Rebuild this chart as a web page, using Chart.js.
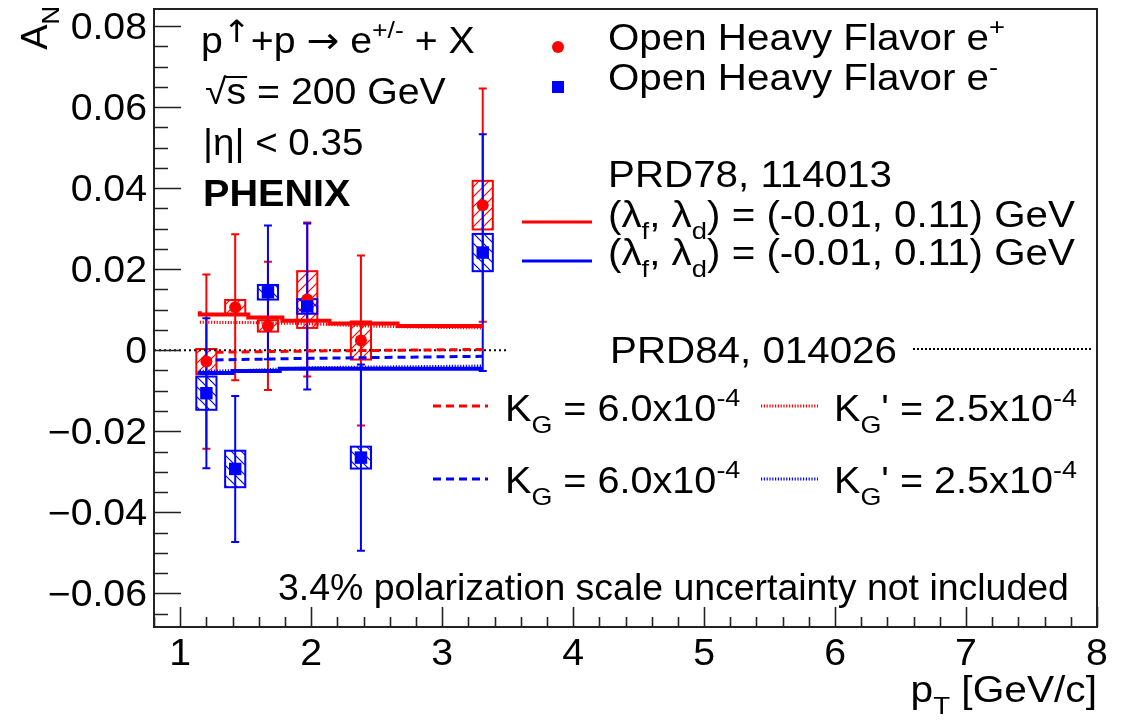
<!DOCTYPE html>
<html>
<head>
<meta charset="utf-8">
<script src="https://cdn.jsdelivr.net/npm/chart.js@4/dist/chart.umd.min.js"></script>
<style>
  html, body { margin: 0; padding: 0; background: #fff; }
</style>
</head>
<body>
<canvas id="myChart" width="1131" height="721"></canvas>
<script>
// pT bin centres (GeV/c), shared by e+ and e-
const ptBins = [1.20, 1.42, 1.67, 1.97, 2.38, 3.31];

// e+ : A_N, statistical error, systematic (box half height)
const anPos   = [-0.0028, 0.0106, 0.0060, 0.0125, 0.0024, 0.0358];
const statPos = [0.0215, 0.0180, 0.0158, 0.0190, 0.0210, 0.0288];
const sysPos  = [0.0031, 0.0018, 0.0014, 0.0070, 0.0047, 0.0060];

// e- : A_N, statistical error, systematic
const anNeg   = [-0.0106, -0.0293, 0.0143, 0.0108, -0.0265, 0.0241];
const statNeg = [0.0185, 0.0180, 0.0165, 0.0205, 0.0230, 0.0292];
const sysNeg  = [0.0041, 0.0045, 0.0018, 0.0018, 0.0027, 0.0046];

// half width of the systematic boxes in pT
const boxHalfWidth = 0.077;

// theory curves: [pT, A_N]
const prd78Pos = [[1.15, 0.0096], [1.52, 0.0088], [1.78, 0.0081], [2.14, 0.0073], [2.66, 0.0066], [2.97, 0.0060], [3.31, 0.0060]];
const prd78Neg = [[1.15, -0.0060], [1.40, -0.0056], [1.76, -0.0051], [2.00, -0.0046], [3.31, -0.0046]];
const kgPos    = [[1.27, -0.0005], [2.00, -0.0002], [3.31, 0.0002]];
const kgNeg    = [[1.27, -0.0024], [2.00, -0.0020], [3.31, -0.0015]];
const kgpPos   = [[1.15, 0.0069], [1.60, 0.0068], [2.00, 0.0065], [2.40, 0.0060], [2.80, 0.0057], [3.31, 0.0055]];
const kgpNeg   = [[1.15, -0.0052], [1.50, -0.0050], [2.00, -0.0043], [3.31, -0.0039]];
const zeroLine = [[0.8, 0], [3.5, 0]];

// axes
const xRange = [0.8, 8.0];
const yRange = [-0.0683, 0.0842];
const xTicks = [1, 2, 3, 4, 5, 6, 7, 8];
const xTickLabels = ['1', '2', '3', '4', '5', '6', '7', '8'];
const yTicks = [-0.06, -0.04, -0.02, 0, 0.02, 0.04, 0.06, 0.08];
const yTickLabels = ['\u22120.06', '\u22120.04', '\u22120.02', '0', '0.02', '0.04', '0.06', '0.08'];
const xMinorStep = 0.2;
const yMinorStep = 0.005;

const RED = '#ff0000';
const BLUE = '#0000ff';
const FONT = '"Liberation Sans", Arial, Helvetica, sans-serif';
const ARROWS = /[\u2190-\u21FF]/;

const toXY = arr => arr.map(p => ({ x: p[0], y: p[1] }));

// split "K_{G} = 6.0x10^{-4}" into plain / sub / sup pieces
function splitRich(str) {
  const out = [];
  const re = /([_^])\{([^}]*)\}/g;
  let last = 0, m;
  while ((m = re.exec(str))) {
    if (m.index > last) out.push({ t: str.slice(last, m.index), kind: '' });
    out.push({ t: m[2], kind: m[1] });
    last = re.lastIndex;
  }
  if (last < str.length) out.push({ t: str.slice(last), kind: '' });
  return out;
}

// arrows are split out so they can use the wider DejaVu glyphs
function explodeArrows(parts) {
  const out = [];
  for (const p of parts) {
    p.t.split(/([\u2190-\u21FF])/).forEach(t => { if (t) out.push({ t: t, kind: p.kind }); });
  }
  return out;
}

function rich(ctx, str, x, y, size, opt) {
  opt = opt || {};
  const sxs = opt.sx || 1.08;
  const parts = explodeArrows(splitRich(str));
  const font = (s, t) => (opt.bold ? 'bold ' : '') + s + 'px ' + (ARROWS.test(t) ? '"DejaVu Sans", ' + FONT : FONT);
  let total = 0;
  for (const p of parts) {
    p.size = p.kind ? size * 0.68 : size;
    if (ARROWS.test(p.t) && p.kind) p.size = size * 0.85;
    ctx.font = font(p.size, p.t);
    p.w = ctx.measureText(p.t).width;
    total += p.w;
  }
  ctx.save();
  ctx.translate(x, y);
  if (opt.rot) ctx.rotate(opt.rot);
  ctx.scale(sxs, 1);
  ctx.fillStyle = opt.color || '#000';
  ctx.textBaseline = 'alphabetic';
  ctx.textAlign = 'left';
  let cx = opt.align === 'right' ? -total : opt.align === 'center' ? -total / 2 : 0;
  for (const p of parts) {
    ctx.font = font(p.size, p.t);
    let dy = p.kind === '_' ? size * 0.32 : p.kind === '^' ? -size * 0.42 : 0;
    if (ARROWS.test(p.t) && p.kind === '^') dy = -size * 0.3;
    ctx.fillText(p.t, cx, dy);
    cx += p.w;
  }
  ctx.restore();
  return total * sxs;
}

function hatch(color, dir) {
  const s = 10;
  const c = document.createElement('canvas');
  c.width = s; c.height = s;
  const g = c.getContext('2d');
  g.strokeStyle = color;
  g.lineWidth = 1.2;
  g.beginPath();
  if (dir > 0) {
    g.moveTo(0, s); g.lineTo(s, 0);
    g.moveTo(-2, 2); g.lineTo(2, -2);
    g.moveTo(s - 2, s + 2); g.lineTo(s + 2, s - 2);
  } else {
    g.moveTo(0, 0); g.lineTo(s, s);
    g.moveTo(-2, s - 2); g.lineTo(2, s + 2);
    g.moveTo(s - 2, -2); g.lineTo(s + 2, 2);
  }
  g.stroke();
  return g.createPattern(c, 'repeat');
}

function drawSeries(ctx, scales, xs, ys, ss, stat, color, pattern) {
  const sx = scales.x, sy = scales.y;
  for (let i = 0; i < xs.length; i++) {
    const l = sx.getPixelForValue(xs[i] - boxHalfWidth);
    const r = sx.getPixelForValue(xs[i] + boxHalfWidth);
    const t = sy.getPixelForValue(ys[i] + ss[i]);
    const b = sy.getPixelForValue(ys[i] - ss[i]);
    ctx.fillStyle = pattern;
    ctx.fillRect(l, t, r - l, b - t);
    ctx.strokeStyle = color;
    ctx.lineWidth = 2;
    ctx.strokeRect(l, t, r - l, b - t);
    // statistical error bar with caps
    const px = sx.getPixelForValue(xs[i]);
    const et = sy.getPixelForValue(ys[i] + stat[i]);
    const eb = sy.getPixelForValue(ys[i] - stat[i]);
    ctx.beginPath();
    ctx.moveTo(px, et); ctx.lineTo(px, eb);
    ctx.moveTo(px - 4, et); ctx.lineTo(px + 4, et);
    ctx.moveTo(px - 4, eb); ctx.lineTo(px + 4, eb);
    ctx.stroke();
  }
}

const errorBoxes = {
  id: 'errorBoxes',
  beforeDatasetsDraw(chart) {
    const ctx = chart.ctx;
    ctx.save();
    drawSeries(ctx, chart.scales, ptBins, anPos, sysPos, statPos, RED, hatch(RED, 1));
    drawSeries(ctx, chart.scales, ptBins, anNeg, sysNeg, statNeg, BLUE, hatch(BLUE, -1));
    ctx.restore();
  }
};

function legendLine(ctx, x1, x2, y, color, width, dash) {
  ctx.save();
  ctx.strokeStyle = color;
  ctx.lineWidth = width;
  ctx.setLineDash(dash || []);
  ctx.beginPath();
  ctx.moveTo(x1, y); ctx.lineTo(x2, y);
  ctx.stroke();
  ctx.restore();
}

const frameAndText = {
  id: 'frameAndText',
  afterDraw(chart) {
    const ctx = chart.ctx;
    const a = chart.chartArea;
    const sx = chart.scales.x, sy = chart.scales.y;
    ctx.save();

    // frame
    ctx.strokeStyle = '#222';
    ctx.lineWidth = 2;
    ctx.strokeRect(a.left, a.top, a.right - a.left, a.bottom - a.top);

    // ticks, drawn inward
    ctx.lineWidth = 1.6;
    ctx.beginPath();
    for (let k = Math.ceil(yRange[0] / yMinorStep - 1e-6); k * yMinorStep <= yRange[1]; k++) {
      const v = k * yMinorStep;
      const major = Math.abs(v / 0.02 - Math.round(v / 0.02)) < 1e-6;
      const py = Math.round(sy.getPixelForValue(v)) + 0.5;
      ctx.moveTo(a.left, py); ctx.lineTo(a.left + (major ? 27 : 14), py);
    }
    for (let k = Math.ceil(xRange[0] / xMinorStep - 1e-6); k * xMinorStep <= xRange[1] + 1e-6; k++) {
      const v = k * xMinorStep;
      const major = Math.abs(v - Math.round(v)) < 1e-6;
      const px = Math.round(sx.getPixelForValue(v)) + 0.5;
      ctx.moveTo(px, a.bottom); ctx.lineTo(px, a.bottom - (major ? 20 : 10));
    }
    ctx.stroke();

    // tick labels
    yTicks.forEach((v, i) => rich(ctx, yTickLabels[i], 147, sy.getPixelForValue(v) + 13, 36, { align: 'right', sx: 1.09 }));
    xTicks.forEach((v, i) => rich(ctx, xTickLabels[i], sx.getPixelForValue(v), 665, 36, { align: 'center', sx: 1.09 }));

    // axis titles
    rich(ctx, 'p_{T} [GeV/c]', a.right, 702, 36, { align: 'right', sx: 1.13 });
    rich(ctx, 'A_{N}', 47, 6, 36, { align: 'right', rot: -Math.PI / 2, sx: 1.05 });

    // labels in the top left
    rich(ctx, 'p^{\u2191}+p \u2192 e^{+/-} + X', 201, 53, 36, { sx: 1.09 });
    rich(ctx, '\u221As = 200 GeV', 205, 104, 36, { sx: 1.09 });
    ctx.font = '36px ' + FONT;
    const w1 = ctx.measureText('\u221A').width * 1.09, w2 = ctx.measureText('\u221As').width * 1.09;
    legendLine(ctx, 205 + w1 - 1, 205 + w2 + 1, 77, '#000', 2);
    rich(ctx, '|\u03B7| < 0.35', 203, 155, 36, { sx: 1.07 });
    rich(ctx, 'PHENIX', 203, 206, 37, { bold: true, sx: 1.07 });

    // data legend
    const L = 1.12;
    ctx.fillStyle = RED;
    ctx.beginPath(); ctx.arc(558, 47, 6, 0, Math.PI * 2); ctx.fill();
    ctx.fillStyle = BLUE;
    ctx.fillRect(552, 81, 12, 12);
    rich(ctx, 'Open Heavy Flavor e^{+}', 608, 50, 36, { sx: L });
    rich(ctx, 'Open Heavy Flavor e^{-}', 608, 90, 36, { sx: L });

    // PRD78 legend
    rich(ctx, 'PRD78, 114013', 608, 187, 36, { sx: L });
    legendLine(ctx, 522, 592, 222, RED, 3);
    rich(ctx, '(\u03BB_{f}, \u03BB_{d}) = (-0.01, 0.11) GeV', 608, 227, 36, { sx: L });
    legendLine(ctx, 522, 592, 261, BLUE, 3);
    rich(ctx, '(\u03BB_{f}, \u03BB_{d}) = (-0.01, 0.11) GeV', 608, 265, 36, { sx: L });

    // PRD84 legend
    rich(ctx, 'PRD84, 014026', 610, 363, 36, { sx: L });
    legendLine(ctx, 913, 1092, 349, '#000', 2, [2, 2]);
    legendLine(ctx, 433, 488, 406, RED, 3, [8, 5]);
    rich(ctx, 'K_{G} = 6.0x10^{-4}', 505, 421, 36, { sx: 1.1 });
    legendLine(ctx, 761, 818, 406, RED, 3, [1.2, 1.6]);
    rich(ctx, "K_{G}' = 2.5x10^{-4}", 834, 421, 36, { sx: 1.1 });
    legendLine(ctx, 433, 488, 479, BLUE, 3, [8, 5]);
    rich(ctx, 'K_{G} = 6.0x10^{-4}', 505, 493, 36, { sx: 1.1 });
    legendLine(ctx, 761, 818, 479, BLUE, 3, [1.2, 1.6]);
    rich(ctx, "K_{G}' = 2.5x10^{-4}", 834, 493, 36, { sx: 1.1 });

    rich(ctx, '3.4% polarization scale uncertainty not included', 278, 600, 36, { sx: 1.04 });
    ctx.restore();
  }
};

function curve(data, color, width, dash, stepped) {
  return {
    data: toXY(data),
    showLine: true,
    borderColor: color,
    borderWidth: width,
    borderDash: dash || [],
    stepped: stepped ? 'after' : false,
    pointRadius: 0,
    fill: false
  };
}

new Chart('myChart', {
  type: 'scatter',
  data: {
    datasets: [
      {
        data: ptBins.map((x, i) => ({ x: x, y: anNeg[i] })),
        pointStyle: 'rect', pointRadius: 8.8,
        backgroundColor: BLUE, borderColor: BLUE, borderWidth: 0
      },
      {
        data: ptBins.map((x, i) => ({ x: x, y: anPos[i] })),
        pointStyle: 'circle', pointRadius: 6,
        backgroundColor: RED, borderColor: RED, borderWidth: 0
      },
      curve(prd78Pos, RED, 4, null, true),
      curve(prd78Neg, BLUE, 4, null, true),
      curve(kgPos, RED, 3, [8, 5]),
      curve(kgNeg, BLUE, 3, [8, 5]),
      curve(kgpPos, RED, 3, [1.2, 1.6]),
      curve(kgpNeg, BLUE, 3, [1.2, 1.6]),
      curve(zeroLine, '#000', 2, [2, 3])
    ]
  },
  options: {
    responsive: false,
    animation: false,
    layout: { padding: { left: 154, top: 9, right: 34, bottom: 94 } },
    scales: {
      x: { type: 'linear', min: xRange[0], max: xRange[1], display: false },
      y: { type: 'linear', min: yRange[0], max: yRange[1], display: false }
    },
    plugins: {
      legend: { display: false },
      tooltip: { enabled: false }
    }
  },
  plugins: [errorBoxes, frameAndText]
});
</script>
</body>
</html>
